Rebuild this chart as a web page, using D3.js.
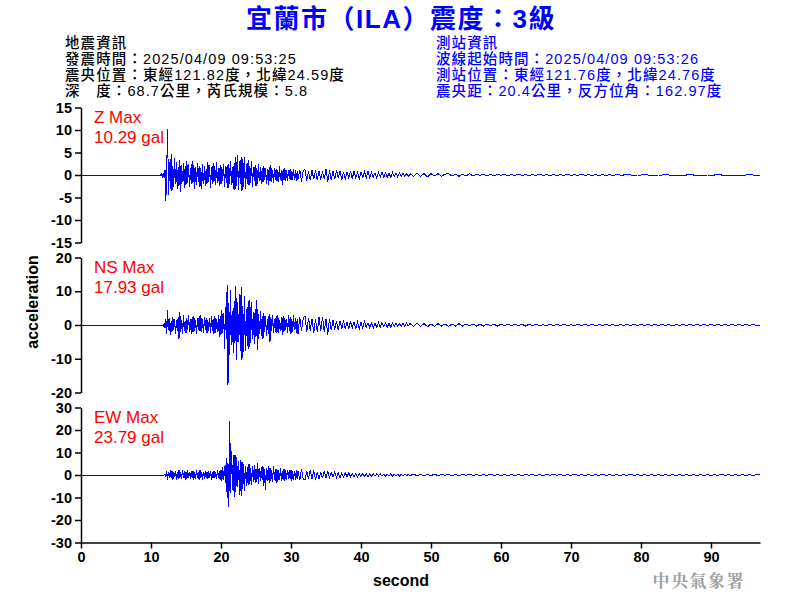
<!DOCTYPE html>
<html><head><meta charset="utf-8">
<script src="https://cdn.jsdelivr.net/npm/d3@7"></script>
<style>body{margin:0;background:#fff}svg{display:block}</style>
</head><body>
<script>
// ---- data ----
const titleText = "宜蘭市（ILA）震度：3級";
const leftInfo = ["地震資訊","發震時間：2025/04/09 09:53:25","震央位置：東經121.82度，北緯24.59度","深　度：68.7公里，芮氏規模：5.8"];
const rightInfo = ["測站資訊","波線起始時間：2025/04/09 09:53:26","測站位置：東經121.76度，北緯24.76度","震央距：20.4公里，反方位角：162.97度"];
const channels = ["Z","NS","EW"];
const maxLabels = ["10.29 gal","17.93 gal","23.79 gal"];
const yTicksZ = [-15,-10,-5,0,5,10,15];
const yTicksNS = [-20,-10,0,10,20];
const yTicksEW = [-30,-20,-10,0,10,20,30];
const xTicks = [0,10,20,30,40,50,60,70,80,90];
const xMax = 97;
const earlyStart = 11.0, earlyStep = 0.125;  // seconds
const midStart = 31.25, midStep = 0.25;      // seconds
const tailStart = 47.5, tailStep = 0.5;      // seconds

const zEarly = [0,0,0,0,0.2,-0.3,0.4,-0.6,
 1.2,-5.8,2.0,10.3,-4.4,2.8,-3.1,4.6,
 -3.5,2.1,-2.6,3.8,-1.9,2.9,-3.2,1.7,
 -2.4,3.3,-3.7,2.2,-1.6,2.6,-2.9,1.9,
 -2.2,3.0,-1.8,2.4,-2.7,1.5,-2.0,3.1,
 -1.7,2.3,-3.0,1.8,-2.2,2.7,-1.5,2.0,
 -2.6,1.6,-3.1,2.5,-1.9,2.1,-2.4,1.4,
 -2.0,2.9,-1.6,2.2,-2.8,1.7,-2.1,2.6,
 -1.5,1.9,-2.3,2.8,-1.8,1.6,-2.5,2.2,
 -2.1,1.8,-1.4,2.5,-2.6,2.0,-1.7,2.3,
 -2.9,2.4,-1.9,3.2,-2.2,1.8,-3.0,2.7,
 -3.3,3.9,-2.5,4.4,-3.4,3.0,-2.1,4.1,
 -3.5,3.6,-2.6,4.0,-3.1,2.4,-2.0,3.3,
 -2.3,2.1,-1.8,3.0,-2.6,1.7,-1.4,2.2,
 -2.5,1.6,-1.9,2.4,-1.3,1.8,-2.1,1.5,
 -1.6,2.0,-1.2,1.5,-1.9,1.3,-2.2,1.7,
 -1.4,2.2,-1.5,1.2,-1.8,1.6,-1.1,1.4,
 -1.3,1.1,-1.6,1.9,-1.2,1.0,-2.2,1.3,
 -1.1,1.5,-1.4,1.0,-1.3,1.2,-0.9,1.4,
 -1.2,0.9,-1.0,1.3,-1.1,1.0,-1.3,0.8,
 -1.0];
const zMid = [1.2,-1.5,1.0,
 1.2,-1.3,0.9,-1.1, 1.0,-0.9,1.1,-1.2, 0.9,-1.0,0.8,-0.9, 1.3,-1.5,1.0,-1.2,
 0.8,-0.9,1.1,-0.7, 0.9,-1.2,0.7,-0.8, 0.7,-0.6,0.9,-0.8, 0.8,-0.7,0.6,-0.9, 0.6,-0.5,0.7,-0.6,
 0.8,-0.6,0.5,-0.5, 0.5,-0.6,0.6,-0.4, 0.6,-0.5,0.4,-0.5, 0.4,-0.5,0.5,-0.4, 0.5,-0.4,0.4,-0.3,
 0.4,-0.3,0.3,-0.4, 0.3];
const zTail = [-0.3,0.4,-0.3,0.3,-0.4,0.3,-0.2,0.3,-0.3,0.2, 0.3,-0.2,0.2,-0.3,0.2,-0.2,0.3,-0.2,0.2,-0.1,
 0.2,-0.2,0.1,-0.2,0.2,-0.1,0.2,-0.2,0.1,-0.1, 0.2,-0.1,0.1,-0.2,0.1,-0.1,0.2,-0.1,0.1,-0.1,
 0.1,-0.2,0.1,-0.1,0.2,-0.1,0.1,-0.1,0.2,-0.1, 0.1,-0.1,0.1,-0.2,0.1,-0.1,0.1,-0.1,0.1,0,
 0,0.1,0,-0.1,0,0,0.1,0,0,-0.1, 0,0,0.1,0,0,0,-0.1,0,0,0.1,
 0,0,0,-0.1,0,0,0,0.1,0,0, 0,0,-0.1,0,0,0,0.1,0,0,0];

const nsEarly = [0,0,0,0,0,0,-0.3,0.5,
 -1.0,1.8,-2.6,4.4,-1.5,2.0,-3.1,1.2,
 -2.0,2.3,-1.5,1.7,-2.8,1.4,-1.9,2.5,
 -4.0,3.8,-2.2,1.6,-2.6,2.9,-1.7,1.3,
 -2.4,2.1,-1.5,3.1,-2.0,1.8,-2.7,2.4,
 -2.2,2.7,-1.9,1.5,-2.8,2.2,-1.6,2.6,
 -1.8,2.9,-2.1,1.7,-2.5,2.4,-1.4,2.0,
 -2.5,1.6,-1.9,2.2,-2.3,2.8,-1.7,1.9,
 -2.6,2.8,-2.3,1.7,-2.0,3.0,-3.6,2.6,
 -3.0,4.3,-2.4,3.5,-7.0,5.2,-4.0,11.9,
 -17.9,6.5,-9.0,10.4,-6.0,4.2,-8.3,7.1,
 -5.2,11.5,-10.5,6.8,-4.9,9.2,-7.6,11.2,
 -10.3,5.5,-8.1,8.5,-7.8,4.6,-6.2,7.0,
 -7.0,7.4,-5.2,6.8,-4.1,3.9,-5.5,4.8,
 -3.6,7.4,-7.4,3.2,-2.8,4.1,-3.3,2.6,
 -4.1,3.5,-2.2,2.8,-3.2,1.9,-2.6,3.4,
 -5.0,2.5,-1.8,2.9,-2.3,1.7,-2.0,2.6,
 -2.3,3.0,-2.5,1.6,-1.9,2.4,-3.1,2.8,
 -2.0,2.2,-1.6,1.8,-2.4,2.9,-1.8,2.4,
 -2.6,1.7,-2.1,2.9,-1.5,2.2,-2.3,1.9,
 -2.7];
const nsMid = [2.3,-1.9,2.1,
 2.6,-2.0,2.2,-1.7, 1.9,-2.4,1.8,-2.1, 2.3,-1.9,2.5,-2.2, 1.8,-2.8,1.7,-1.6,
 1.5,-1.4,1.2,-1.6, 1.3,-1.1,1.4,-1.2, 1.0,-1.2,1.1,-0.9, 0.9,-1.0,0.8,-1.1, 0.8,-0.9,1.0,-0.7,
 0.7,-0.8,0.6,-0.9, 0.6,-0.7,0.8,-0.6, 0.7,-0.5,0.6,-0.7, 0.5,-0.6,0.5,-0.4, 0.6,-0.5,0.4,-0.5,
 0.5,-0.4,0.5,-0.3, 0.4];
const nsTail = [-0.4,0.5,-0.4,0.4,-0.5,0.3,-0.4,0.4,-0.3,0.3, -0.4,0.3,-0.3,0.4,-0.3,0.3,-0.2,0.3,-0.3,0.2,
 -0.3,0.3,-0.2,0.2,-0.3,0.2,-0.2,0.3,-0.2,0.2, -0.2,0.2,-0.3,0.2,-0.2,0.2,-0.2,0.1,-0.2,0.2,
 -0.2,0.2,-0.1,0.2,-0.2,0.1,-0.2,0.2,-0.1,0.2, -0.1,0.2,-0.2,0.1,-0.1,0.2,-0.1,0.1,-0.2,0.1,
 -0.1,0.1,-0.1,0.2,-0.1,0.1,-0.1,0.1,-0.1,0.1, -0.1,0.1,-0.1,0.1,-0.2,0.1,-0.1,0.1,-0.1,0.1,
 -0.1,0.1,-0.1,0.1,-0.1,0.1,-0.1,0.2,-0.1,0.1, -0.1,0.1,-0.1,0.1,-0.1,0.1,-0.1,0.1,-0.1,0];

const ewEarly = [0,0,0,0,0,0,0,0,
 0.4,-0.8,1.6,-2.1,1.2,-1.5,2.0,-1.1,
 1.7,-2.2,1.4,-1.0,1.8,-2.4,1.3,-1.6,
 2.3,-1.5,1.1,-1.8,2.4,-1.2,1.6,-2.0,
 1.3,-1.9,2.0,-1.4,1.2,-1.7,1.9,-1.1,
 1.6,-2.1,1.2,-1.7,2.2,-1.3,1.5,-2.0,
 2.2,-1.3,1.5,-2.0,1.1,-1.6,1.8,-1.4,
 1.4,-1.8,1.9,-1.2,1.6,-2.1,1.3,-1.5,
 1.7,-1.5,1.3,-1.9,2.1,-1.4,1.8,-2.3,
 2.1,-2.6,3.5,-2.2,4.1,-3.6,7.4,-10.0,
 5.2,-14.0,23.8,-8.2,10.5,-6.5,8.8,-9.6,
 9.0,-7.5,8.2,-5.4,6.3,-8.8,6.5,-9.2,
 5.8,-6.0,4.8,-7.1,4.2,-5.1,3.6,-4.5,
 4.9,-3.9,3.2,-4.6,3.8,-2.9,4.4,-3.5,
 2.7,-3.1,5.5,-4.2,3.0,-2.6,3.6,-2.2,
 3.9,-4.8,2.8,-6.7,3.1,-2.5,4.2,-3.5,
 3.3,-2.8,2.4,-3.0,4.2,-2.1,2.7,-3.6,
 2.5,-3.0,2.1,-2.4,3.1,-2.6,1.9,-2.2,
 2.6,-2.8,2.0,-2.3,2.4,-1.7,2.2,-1.9,
 2.3,-2.5,1.8,-2.1,1.6,-2.2,2.0,-1.8,
 1.8];
const ewMid = [-2.3,2.5,-1.8,
 -2.1,1.7,-1.8,2.2, -1.6,2.0,-2.2,1.5, -1.8,1.4,-1.5,1.9, -1.3,1.5,-1.2,1.1,
 -1.0,1.2,-1.1,0.9, -1.2,0.8,-0.9,1.0, -0.8,0.9,-0.7,0.8, -0.7,0.6,-0.8,0.7, -0.6,0.7,-0.5,0.6,
 -0.7,0.5,-0.6,0.5, -0.5,0.6,-0.4,0.5, -0.5,0.4,-0.5,0.4, -0.4,0.5,-0.4,0.3, -0.4,0.3,-0.4,0.4,
 -0.3,0.4,-0.3,0.3, -0.3];
const ewTail = [0.4,-0.3,0.3,-0.4,0.3,-0.3,0.4,-0.3,0.3,-0.2, 0.3,-0.3,0.2,-0.3,0.3,-0.2,0.3,-0.2,0.2,-0.3,
 0.2,-0.2,0.3,-0.2,0.2,-0.2,0.2,-0.3,0.2,-0.2, 0.2,-0.2,0.2,-0.1,0.2,-0.2,0.1,-0.2,0.2,-0.1,
 0.2,-0.1,0.2,-0.2,0.1,-0.1,0.2,-0.1,0.1,-0.2, 0.1,-0.2,0.1,-0.1,0.2,-0.1,0.1,-0.1,0.1,-0.1,
 0.1,-0.1,0.2,-0.1,0.1,-0.1,0.1,-0.1,0.1,-0.1, 0.1,-0.1,0.1,-0.1,0.1,-0.2,0.1,-0.1,0.1,-0.1,
 0.1,-0.1,0.1,-0.1,0.1,-0.1,0.1,-0.1,0.2,-0.1, 0.1,-0.1,0.1,-0.1,0.1,-0.1,0.1,-0.1,0.1,0];

// ---- build ----
function buildSeries(early, mid, tail){
  const pts = [{t:0, v:0}];
  early.forEach((v,i)=>pts.push({t: earlyStart + i*earlyStep, v}));
  mid.forEach((v,i)=>pts.push({t: midStart + i*midStep, v}));
  tail.forEach((v,i)=>pts.push({t: tailStart + i*tailStep, v}));
  pts.push({t: xMax, v: 0});
  return pts;
}
const panels = [
  {name:channels[0], label:maxLabels[0], ticks:yTicksZ, data:buildSeries(zEarly,zMid,zTail)},
  {name:channels[1], label:maxLabels[1], ticks:yTicksNS, data:buildSeries(nsEarly,nsMid,nsTail)},
  {name:channels[2], label:maxLabels[2], ticks:yTicksEW, data:buildSeries(ewEarly,ewMid,ewTail)}
];

const W=800,H=600;
const svg = d3.select("body").append("svg").attr("width",W).attr("height",H);
const cjk = "'Liberation Sans Narrow','Liberation Sans','Noto Sans CJK TC',sans-serif";
const sans = "'Liberation Sans',Arial,sans-serif";

svg.append("text").attr("x",401).attr("y",28).attr("text-anchor","middle")
  .attr("font-family",cjk).attr("font-size",26).attr("font-weight","bold").attr("letter-spacing",1.5)
  .attr("fill","#0000ff").text(titleText);

leftInfo.forEach((s,i)=>svg.append("text").attr("x",65).attr("y",48+i*16)
  .attr("font-family",cjk).attr("font-size",14.5).attr("font-weight",500).attr("letter-spacing",1.1)
  .attr("fill","#000").text(s));
rightInfo.forEach((s,i)=>svg.append("text").attr("x",436).attr("y",48+i*16)
  .attr("font-family",cjk).attr("font-size",14.5).attr("font-weight",500).attr("letter-spacing",1.1)
  .attr("fill","#0000ff").text(s));

const left=81, right=760;
const x = d3.scaleLinear().domain([0,xMax]).range([left,right]);
const panelTop=[107.5,257.5,407.5], panelH=135;
const fmt = d => String(d);

panels.forEach((p,k)=>{
  const ext = d3.max(p.ticks);
  const y = d3.scaleLinear().domain([-ext,ext]).range([panelTop[k]+panelH, panelTop[k]]);
  const g = svg.append("g");
  const line = d3.line().x(d=>x(d.t)).y(d=>y(d.v));
  g.append("path").datum(p.data).attr("d",line).attr("fill","none")
    .attr("stroke","#0000ff").attr("stroke-width",1).attr("shape-rendering","crispEdges");
  const ax = g.append("g").attr("transform",`translate(${left},0)`)
    .call(d3.axisLeft(y).tickValues(p.ticks).tickFormat(fmt).tickSize(6).tickSizeOuter(0).tickPadding(3));
  ax.select(".domain").attr("stroke","#000").attr("stroke-width",1.5);
  ax.selectAll(".tick line").attr("stroke","#000").attr("stroke-width",1.5);
  ax.selectAll("text").attr("font-family",sans).attr("font-size",14.5).attr("font-weight","bold").attr("fill","#000");
  g.append("text").attr("x",94).attr("y",panelTop[k]+15).attr("font-family",sans).attr("font-size",17)
    .attr("fill","#ff0000").text(p.name+" Max");
  g.append("text").attr("x",94).attr("y",panelTop[k]+35).attr("font-family",sans).attr("font-size",17)
    .attr("fill","#ff0000").text(p.label);
  if(k===2){
    const xa = svg.append("g").attr("transform",`translate(0,${panelTop[k]+panelH})`)
      .call(d3.axisBottom(x).tickValues(xTicks).tickFormat(fmt).tickSize(6).tickSizeOuter(0).tickPadding(3));
    xa.select(".domain").attr("stroke","#000").attr("stroke-width",1.5);
    xa.selectAll(".tick line").attr("stroke","#000").attr("stroke-width",1.5);
    xa.selectAll("text").attr("font-family",sans).attr("font-size",14.5).attr("font-weight","bold").attr("fill","#000");
  }
});

svg.append("text").attr("transform","translate(38,302) rotate(-90)").attr("text-anchor","middle")
  .attr("font-family",sans).attr("font-size",16).attr("font-weight","bold").text("acceleration");
svg.append("text").attr("x",401).attr("y",586).attr("text-anchor","middle")
  .attr("font-family",sans).attr("font-size",16).attr("font-weight","bold").text("second");
svg.append("text").attr("x",745).attr("y",587).attr("text-anchor","end")
  .attr("font-family","'Noto Serif CJK TC','Noto Sans CJK TC',serif").attr("font-size",17).attr("font-weight","bold")
  .attr("letter-spacing",1.5).attr("fill","#a0a0a0").text("中央氣象署");
</script>
</body></html>
